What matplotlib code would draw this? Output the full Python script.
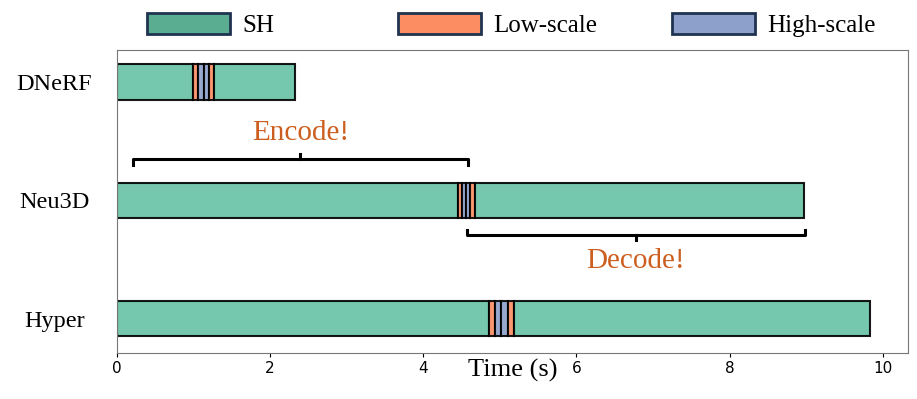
import numpy as np
import matplotlib.pyplot as plt
from matplotlib.patches import Patch

# 数据
datasets = ["DNeRF", "Neu3D", "Hyper"]
# 每段时间: SH编码, 低尺度, 高尺度, 高尺度, 低尺度, SH解码
sh_encode = [0.99, 4.45, 4.86]
low_1 = [0.07, 0.055, 0.08]
high_1 = [0.07, 0.055, 0.08]
high_2 = [0.07, 0.055, 0.08]
low_2 = [0.07, 0.055, 0.08]
sh_decode = [1.06, 4.30, 4.66]

legend_labels = ["SH", "Low-scale", "High-scale"]
xticks = [0, 2, 4, 6, 8, 10]

# 括号范围
encode_span = [0.21, 4.58]
decode_span = [4.57, 8.98]

c_sh = "#66c2a5"
c_low = "#fc8d62"
c_high = "#8da0cb"
c_text = "#cc5f1f"

plt.rcParams['font.family'] = ['Liberation Serif', 'DejaVu Serif']

fig = plt.figure(figsize=(9.17, 3.99), dpi=100)
ax = fig.add_axes([0.1276, 0.1153, 0.8626, 0.7594])

y = np.arange(len(datasets))
segments = [sh_encode, low_1, high_1, high_2, low_2, sh_decode]
colors = [c_sh, c_low, c_high, c_high, c_low, c_sh]
left = np.zeros(len(datasets))
for seg, col in zip(segments, colors):
    seg = np.array(seg)
    ax.barh(y, seg, left=left, height=0.3, color=col, alpha=0.9,
            edgecolor="black", linewidth=1.5)
    left += seg

ax.set_ylim(2.29, -0.27)
ax.set_xlim(0, 10.33)
ax.set_yticks(y)
ax.set_yticklabels(datasets, fontsize=17.5, ha="center")
ax.tick_params(axis="y", length=0, pad=45)
ax.set_xticks(xticks)
ax.set_xticklabels([str(t) for t in xticks], fontfamily="DejaVu Sans", fontsize=11)
ax.tick_params(axis="x", length=3, pad=2.5)
ax.set_xlabel("Time (s)", fontsize=19, labelpad=-12)
for s in ax.spines.values():
    s.set_color("#777777")

# 括号
def bracket(x0, x1, yb, d):
    xm = (x0 + x1) / 2
    ax.plot([x0, x0, x1, x1], [yb + d, yb, yb, yb + d], color="black", lw=2.2,
            solid_joinstyle="round")
    ax.plot([xm, xm], [yb, yb - d], color="black", lw=2.2)
    return xm

xm = bracket(encode_span[0], encode_span[1], 0.655, 0.045)
ax.text(xm, 0.43, "Encode!", color=c_text, fontsize=21, ha="center", va="center")
xm = bracket(decode_span[0], decode_span[1], 1.294, -0.045)
ax.text(xm, 1.51, "Decode!", color=c_text, fontsize=21, ha="center", va="center")

# 图例: 三项分开放置
legend_faces = ["#5aad91", c_low, c_high]
legend_x = [147 / 917, 398 / 917, 672 / 917]
for lab, fc, lx in zip(legend_labels, legend_faces, legend_x):
    h = Patch(facecolor=fc, edgecolor="#1f3350", linewidth=2)
    fig.legend([h], [lab], loc="center left", bbox_to_anchor=(lx, 0.937),
               frameon=False, fontsize=18, handlelength=3.3, handleheight=0.9,
               handletextpad=0.5, borderpad=0, borderaxespad=0)

fig.savefig("out.png", dpi=100)
